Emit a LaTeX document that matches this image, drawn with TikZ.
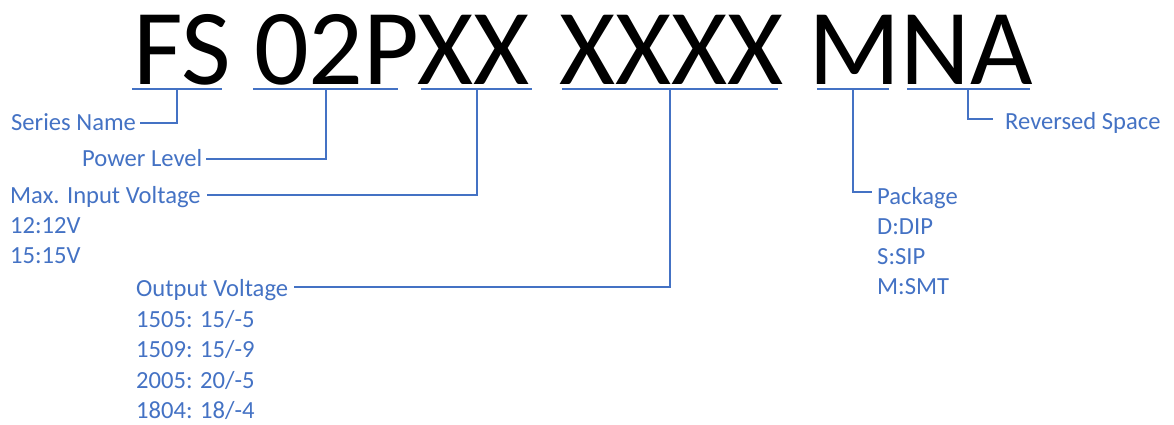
\documentclass[tikz,border=0pt]{standalone}
\usepackage{fontspec}
\setmainfont{Carlito}
\usetikzlibrary{calc}
\definecolor{ob}{RGB}{68,114,196}
\begin{document}
\begin{tikzpicture}[x=1pt,y=-1pt,
  lbl/.style={text=ob, font=\fontsize{24.6}{24.6}\selectfont, inner sep=0pt, anchor=base west},
  big/.style={text=black, font=\fontsize{108}{108}\selectfont, inner sep=0pt, anchor=base west},
  conn/.style={draw=ob, line width=1.4pt}]
\useasboundingbox (0,0) rectangle (1174,424);
% big part number
\node[big] (fs) at (133,84) {FS};
\node[big] (p2) at (254,84) {02PXX};
\node[big] (p3) at (559,84) {XXXX};
\node[big] (p4) at (808,84) {MNA};
% underlines
\coordinate (a1) at (132,89); \coordinate (b1) at (222,89); \coordinate (c1) at (177,89);
\coordinate (a2) at (253,89); \coordinate (b2) at (398,89); \coordinate (c2) at (326,89);
\coordinate (a3) at (421,89); \coordinate (b3) at (532,89); \coordinate (c3) at (477,89);
\coordinate (a4) at (562,89); \coordinate (b4) at (778,89); \coordinate (c4) at (670,89);
\coordinate (a5) at (817,89); \coordinate (b5) at (889,89); \coordinate (c5) at (853,89);
\coordinate (a6) at (907,89); \coordinate (b6) at (1030,89); \coordinate (c6) at (968,89);
\foreach \i in {1,...,6} \draw[conn] (a\i) -- (b\i);
% labels
\node[lbl] (sn) at (11,130) {Series Name};
\node[lbl] (pl) at (82,166) {Power Level};
\node[lbl] (mi) at (10,203) {Max. Input Voltage};
\node[lbl] (mi1) at (10,233) {12:12V};
\node[lbl] (mi2) at (10,263) {15:15V};
\node[lbl] (ov) at (136,296) {Output Voltage};
\node[lbl] (ov1) at (136,327) {1505: 15/-5};
\node[lbl] (ov2) at (136,357) {1509: 15/-9};
\node[lbl] (ov3) at (136,388) {2005: 20/-5};
\node[lbl] (ov4) at (136,418) {1804: 18/-4};
\node[lbl] (pk) at (877,204) {Package};
\node[lbl] (pk1) at (877,234) {D:DIP};
\node[lbl] (pk2) at (877,264) {S:SIP};
\node[lbl] (pk3) at (877,294) {M:SMT};
\node[lbl] (rs) at (1005,129) {Reversed Space};
% connectors
\draw[conn] (c1) |- ([xshift=4pt,yshift=7pt]sn.base east);
\draw[conn] (c2) |- ([xshift=4pt,yshift=7pt]pl.base east);
\draw[conn] (c3) |- ([xshift=6pt,yshift=8pt]mi.base east);
\draw[conn] (c4) |- ([xshift=6pt,yshift=9pt]ov.base east);
\draw[conn] (c5) |- ([xshift=-5pt,yshift=12pt]pk.base west);
\draw[conn] (c6) |- ([xshift=-12pt,yshift=10pt]rs.base west);
\end{tikzpicture}
\end{document}
